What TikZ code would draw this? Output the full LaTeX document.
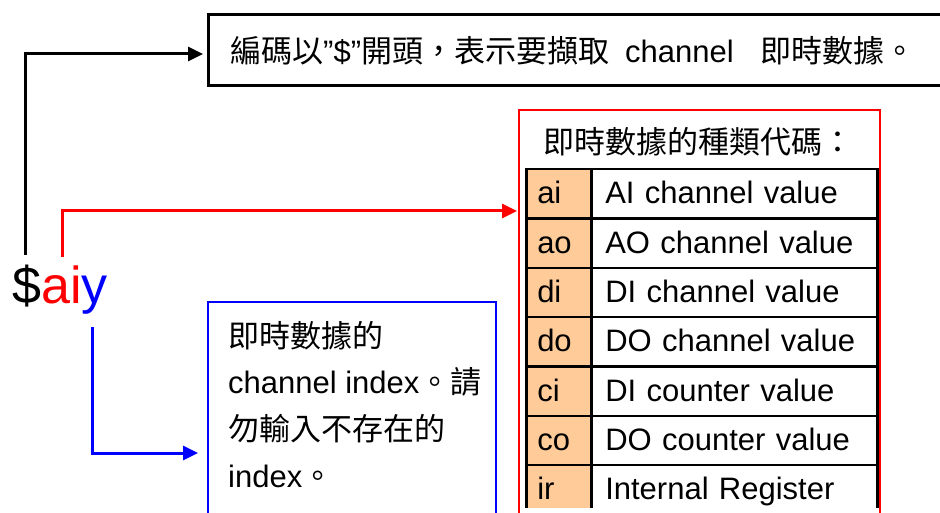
\documentclass[tikz,border=0pt]{standalone}
\usepackage{fontspec}
\setmainfont{Liberation Sans}
\newfontfamily\cjk[Scale=1.0]{Noto Sans CJK TC}
\usetikzlibrary{arrows.meta}
\definecolor{tancell}{HTML}{FFCC99}
\begin{document}
\begin{tikzpicture}[x=1pt,y=-1pt,
  txt/.style={inner sep=0pt, font=\fontsize{31}{37}\selectfont},
  conn/.style={line width=3pt, -{Triangle[length=15pt,width=14pt]}},
  frame/.style={line width=#1, anchor=north west, inner sep=0pt},
  cell/.style={draw=black, line width=2.5pt, minimum height=49.3pt, inner ysep=0pt,
    text height=26pt, text depth=6pt, align=left, anchor=north west,
    font=\fontsize{31}{37}\selectfont},
  codecell/.style={cell, fill=tancell, text width=43pt, inner xsep=11pt, minimum width=65pt},
  desccell/.style={cell, text width=258pt, inner xsep=14pt, minimum width=286pt}]
\useasboundingbox (0,0) rectangle (940,513);
\clip (0,0) rectangle (940,513);

% top box
\node[frame=3pt, draw=black, minimum width=740pt, minimum height=71pt] (topbox) at (207,13) {};
\node[txt, anchor=base west] (toptext) at (230,63)
  {{\cjk 編碼以}\symbol{34}\$\symbol{34}{\cjk 開頭，表示要擷取}\hspace{16pt}channel\hspace{27pt}{\cjk 即時數據。}};

% red box with table
\node[frame=2pt, draw=red, minimum width=361pt, minimum height=420pt] (redbox) at (518,109) {};
\node[txt, anchor=base west] (title) at (543,154) {\cjk 即時數據的種類代碼：};
\begin{scope}
  \clip (500,150) rectangle (900,507);
  \foreach \c/\d [count=\i from 0] in {ai/AI channel value, ao/AO channel value,
      di/DI channel value, do/DO channel value, ci/DI counter value,
      co/DO counter value, ir/Internal Register} {
    \node[codecell] (code\i) at (525,{168+49.3*\i}) {\c};
    \node[desccell] (desc\i) at (590,{168+49.3*\i}) {\d};
  }
\end{scope}

% blue box
\node[frame=2pt, draw=blue, minimum width=288pt, minimum height=230pt] (bluebox) at (207,301) {};
\node[txt, anchor=base west] (b1) at (228,347) {\cjk 即時數據的};
\node[txt, anchor=base west] (b2) at (228,393) {channel index{\cjk 。請}};
\node[txt, anchor=base west] (b3) at (228,440) {\cjk 勿輸入不存在的};
\node[txt, anchor=base west] (b4) at (228,487) {index{\cjk 。}};

% code
\node[inner sep=0pt, anchor=base west, font=\fontsize{52}{58}\selectfont] (code) at (12,303)
  {\$\textcolor{red}{ai}\textcolor{blue}{y}};

% connectors
\coordinate (bs) at (25,255);
\coordinate (bc) at (25,54);
\draw[conn, black, shorten >=4pt] (bs) -- (bc) -- (topbox.west |- bc);
\coordinate (rs) at (62,257);
\coordinate (rc) at (62,211);
\draw[conn, red, shorten >=1pt] (rs) -- (rc) -- (redbox.west |- rc);
\coordinate (ls) at (92,327);
\coordinate (lc) at (92,453);
\draw[conn, blue, shorten >=9pt] (ls) -- (lc) -- (bluebox.west |- lc);
\end{tikzpicture}
\end{document}
